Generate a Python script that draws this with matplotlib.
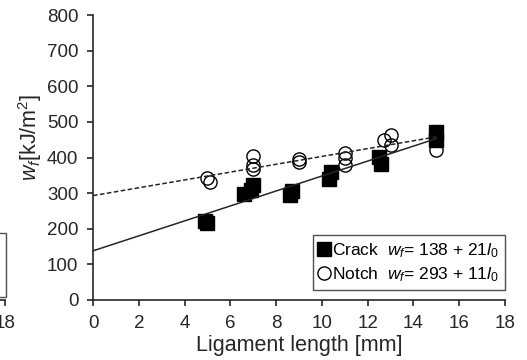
import numpy as np
import matplotlib.pyplot as plt

plt.rcParams['font.family'] = 'Liberation Sans'
plt.rcParams['mathtext.fontset'] = 'custom'
plt.rcParams['mathtext.rm'] = 'Liberation Sans'
plt.rcParams['mathtext.it'] = 'Liberation Sans:italic'

# ligament length [mm] and work of fracture [kJ/m2]
crack_l = [4.9, 5.0, 6.6, 6.9, 7.0, 8.6, 8.7, 10.3, 10.4, 12.5, 12.6, 15.0, 15.0]
crack_w = [222, 215, 297, 310, 323, 295, 305, 340, 358, 401, 382, 472, 449]
notch_l = [5.0, 5.1, 7.0, 7.0, 7.0, 9.0, 9.0, 11.0, 11.0, 11.0, 12.7, 13.0, 13.0, 15.0]
notch_w = [343, 330, 405, 380, 368, 395, 386, 413, 399, 379, 449, 462, 435, 421]

# linear fits  w_f = a + b * l0
crack_fit = (138, 21)
notch_fit = (293, 11)
fit_range = [0, 15]

ink = '#262626'
tick_kw = dict(colors=ink, labelsize=13.5, width=1.2, length=4.5, pad=6)
fig = plt.figure(figsize=(5.27, 3.6), dpi=100)

# neighbouring panel, only its right edge shows
ax0 = fig.add_axes([-0.7725, 0.1667, 0.7818, 0.7916])
ax0.set_xlim(0, 18)
ax0.set_ylim(0, 800)
ax0.set_xticks(np.arange(0, 19, 2))
ax0.set_yticks([])
for s in ['top', 'right', 'left']:
    ax0.spines[s].set_visible(False)
ax0.spines['bottom'].set_color(ink)
ax0.spines['bottom'].set_linewidth(1.2)
ax0.tick_params(axis='x', **tick_kw)
ax0.plot([], [], 's', color='k', ms=11, label='Crack')
ax0.plot([], [], 'o', mfc='none', mec='k', ms=10, label='Notch')
lg0 = ax0.legend(loc='lower right', fontsize=14.5, borderaxespad=0.0,
                 fancybox=False, edgecolor=ink, bbox_to_anchor=(1.003, 0.01))
lg0.get_frame().set_linewidth(1.0)

ax = fig.add_axes([0.1765, 0.1667, 0.7818, 0.7916])
xs = np.array(fit_range)
ax.plot(xs, notch_fit[0] + notch_fit[1] * xs, color=ink, lw=1.1,
        ls=(0, (3, 1.6)), zorder=3)
ax.plot(xs, crack_fit[0] + crack_fit[1] * xs, color=ink, lw=1.1, zorder=3)

ax.plot(notch_l, notch_w, 'o', mfc='none', mec='k', mew=1.0, ms=9.5,
        zorder=2, label='Notch  $w_f$= %d + %d$l_0$' % notch_fit)
ax.plot(crack_l, crack_w, 's', color='k', ms=10.5, zorder=2.5,
        label='Crack  $w_f$= %d + %d$l_0$' % crack_fit)

ax.set_xlim(0, 18)
ax.set_ylim(0, 800)
ax.set_xticks(np.arange(0, 19, 2))
ax.set_yticks(np.arange(0, 801, 100))
for s in ['top', 'right']:
    ax.spines[s].set_visible(False)
for s in ['bottom', 'left']:
    ax.spines[s].set_color(ink)
    ax.spines[s].set_linewidth(1.2)
ax.tick_params(**tick_kw)

ax.set_xlabel('Ligament length [mm]', fontsize=15.5, color=ink, labelpad=2.5)
ax.set_ylabel('$w_f$[kJ/m$^2$]', fontsize=15.5, color=ink)
ax.yaxis.set_label_coords(-0.12, 0.57)

h, l = ax.get_legend_handles_labels()
lg = ax.legend(h[::-1], l[::-1], loc='lower right', fontsize=12.5,
               handlelength=0.6, handletextpad=0.15, borderpad=0.35,
               labelspacing=0.3, borderaxespad=0.0, fancybox=False,
               edgecolor=ink, bbox_to_anchor=(1.0, 0.035))
lg.get_frame().set_linewidth(1.0)

fig.savefig('out.png', dpi=100)
